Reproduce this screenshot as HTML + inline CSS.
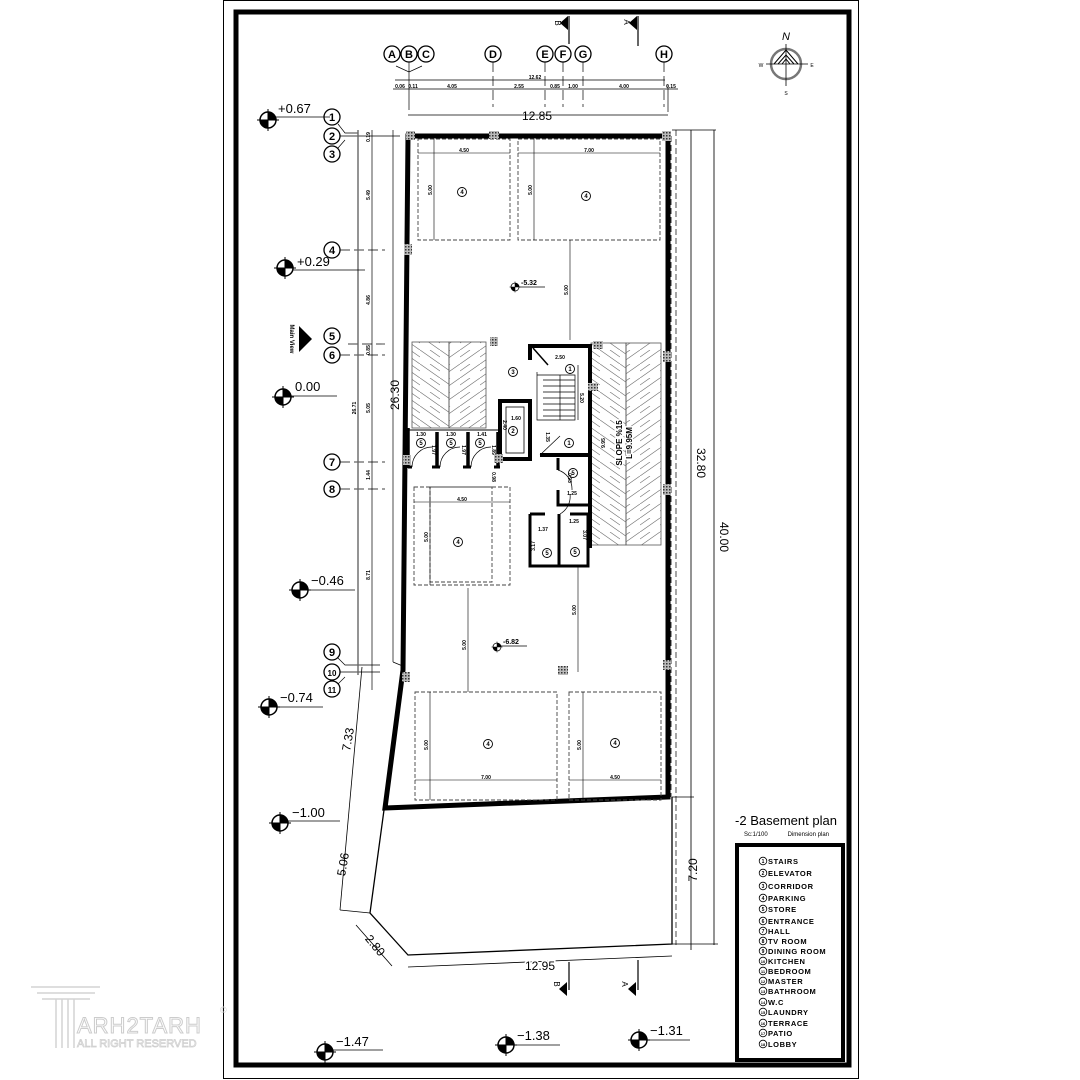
<!DOCTYPE html>
<html><head><meta charset="utf-8"><style>
html,body{margin:0;padding:0;background:#fff}
svg{display:block}
text{font-family:"Liberation Sans",sans-serif}
</style></head><body>
<svg width="1080" height="1080" viewBox="0 0 1080 1080" xmlns="http://www.w3.org/2000/svg">
<defs>
<pattern id="hl" width="20" height="14" patternUnits="userSpaceOnUse">
<path d="M0,0 L20,14 M-10,7 L0,14 M10,0 L20,7" stroke="#777" stroke-width="0.7" fill="none"/>
</pattern>
<pattern id="hr" width="20" height="14" patternUnits="userSpaceOnUse">
<path d="M20,0 L0,14 M30,7 L20,14 M10,0 L0,7" stroke="#777" stroke-width="0.7" fill="none"/>
</pattern>
<pattern id="col" width="3" height="3" patternUnits="userSpaceOnUse">
<rect width="3" height="3" fill="#bbb"/><rect width="1.5" height="1.5" fill="#333"/>
</pattern>
<g id="lvl">
<circle r="8" fill="#fff" stroke="#000" stroke-width="1.5"/>
<path d="M0,0 L8,0 A8,8 0 0 0 0,-8Z M0,0 L-8,0 A8,8 0 0 0 0,8Z" fill="#000"/>
<line x1="-11" y1="0" x2="11" y2="0" stroke="#000"/><line x1="0" y1="-11" x2="0" y2="11" stroke="#000"/>
</g>
</defs>

<!-- frame -->
<rect x="223.5" y="0.5" width="635" height="1078" fill="none" stroke="#000" stroke-width="1"/>
<rect x="236" y="12" width="613" height="1053" fill="none" stroke="#000" stroke-width="5"/>

<!-- section markers -->
<g stroke="#000" stroke-width="1.2">
<line x1="569" y1="16" x2="569" y2="44"/><line x1="638" y1="16" x2="638" y2="46"/>
<line x1="569" y1="962" x2="569" y2="990"/><line x1="638" y1="960" x2="638" y2="990"/>
</g>
<path d="M568,16 L560,23 L568,30Z M637,16 L629,23 L637,30Z M567,982 L559,989 L567,996Z M636,982 L628,989 L636,996Z" fill="#000"/>
<text x="555" y="23" font-size="8" transform="rotate(90 555 23)" text-anchor="middle">B</text>
<text x="624" y="22" font-size="8" transform="rotate(90 624 22)" text-anchor="middle">A</text>
<text x="554" y="984" font-size="8" transform="rotate(90 554 984)" text-anchor="middle">B</text>
<text x="622" y="984" font-size="8" transform="rotate(90 622 984)" text-anchor="middle">A</text>

<!-- compass -->
<g stroke="#000" fill="none">
<circle cx="786" cy="64" r="15" stroke="#777" stroke-width="2.5"/>
<line x1="786" y1="44" x2="786" y2="86" stroke-width="0.8"/>
<line x1="766" y1="64" x2="808" y2="64" stroke-width="0.8"/>
<path d="M774,64 L786,50 L798,64 M778,64 L786,55 L794,64 M782,64 L786,59 L790,64" stroke-width="1"/>
</g>
<text x="786" y="40" font-size="11" font-style="italic" font-family="Liberation Serif" text-anchor="middle">N</text>
<text x="761" y="67" font-size="5" text-anchor="middle">W</text>
<text x="812" y="67" font-size="5" text-anchor="middle">E</text>
<text x="786" y="95" font-size="5" text-anchor="middle">S</text>

<!-- column grid bubbles -->
<g font-size="11" font-weight="bold" text-anchor="middle" fill="#000">
<g stroke="#000" stroke-width="1.3" fill="none">
<circle cx="392" cy="54" r="8"/><circle cx="409" cy="54" r="8"/><circle cx="426" cy="54" r="8"/>
<circle cx="493" cy="54" r="8"/><circle cx="545" cy="54" r="8"/><circle cx="563" cy="54" r="8"/>
<circle cx="583" cy="54" r="8"/><circle cx="664" cy="54" r="8"/>
</g>
<text x="392" y="58">A</text><text x="409" y="58">B</text><text x="426" y="58">C</text><text x="493" y="58">D</text>
<text x="545" y="58">E</text><text x="563" y="58">F</text><text x="583" y="58">G</text><text x="664" y="58">H</text>
</g>
<g stroke="#000" stroke-width="0.7" fill="none">
<path d="M396,66 L409,72 L422,66 M409,62 L409,110"/>
<line x1="493" y1="62" x2="493" y2="107" stroke-dasharray="10,4"/>
<line x1="545" y1="62" x2="545" y2="107" stroke-dasharray="10,4"/>
<line x1="563" y1="62" x2="563" y2="107" stroke-dasharray="10,4"/>
<line x1="583" y1="62" x2="583" y2="107" stroke-dasharray="10,4"/>
<line x1="664" y1="62" x2="664" y2="107" stroke-dasharray="10,4"/>
<line x1="668" y1="85" x2="668" y2="112"/>
<line x1="395" y1="80" x2="665" y2="80"/>
<line x1="393" y1="89" x2="678" y2="89"/>
<line x1="408" y1="115" x2="668" y2="115"/>
</g>
<g font-size="5" font-weight="bold" text-anchor="middle">
<text x="535" y="79">12.62</text>
<text x="400" y="88">0.06</text><text x="413" y="88">0.11</text><text x="452" y="88">4.05</text>
<text x="519" y="88">2.55</text><text x="555" y="88">0.85</text><text x="573" y="88">1.00</text>
<text x="624" y="88">4.00</text><text x="671" y="88">0.15</text>
</g>
<text x="537" y="120" font-size="12" text-anchor="middle" font-family="Liberation Sans Narrow, Liberation Sans">12.85</text>

<!-- row grid bubbles -->
<g stroke="#000" stroke-width="1.3" fill="none">
<circle cx="332" cy="117" r="8"/><circle cx="332" cy="136" r="8"/><circle cx="332" cy="154" r="8"/>
<circle cx="332" cy="250" r="8"/><circle cx="332" cy="336" r="8"/><circle cx="332" cy="355" r="8"/>
<circle cx="332" cy="462" r="8"/><circle cx="332" cy="489" r="8"/>
<circle cx="332" cy="652" r="8"/><circle cx="332" cy="672" r="8"/><circle cx="332" cy="689" r="8"/>
</g>
<g font-size="11" font-weight="bold" text-anchor="middle">
<text x="332" y="121">1</text><text x="332" y="140">2</text><text x="332" y="158">3</text>
<text x="332" y="254">4</text><text x="332" y="340">5</text><text x="332" y="359">6</text>
<text x="332" y="466">7</text><text x="332" y="493">8</text><text x="332" y="656">9</text>
<text x="332" y="676" font-size="8">10</text><text x="332" y="693" font-size="8">11</text>
</g>
<g stroke="#000" stroke-width="0.7" fill="none">
<line x1="340" y1="250" x2="385" y2="250" stroke-dasharray="10,4"/>
<line x1="348" y1="344" x2="385" y2="344" stroke-dasharray="10,4"/>
<line x1="340" y1="355" x2="385" y2="355" stroke-dasharray="10,4"/>
<line x1="340" y1="462" x2="385" y2="462" stroke-dasharray="10,4"/>
<line x1="340" y1="489" x2="385" y2="489" stroke-dasharray="10,4"/>
<path d="M338,124 L345,133 L358,133 M340,136 L400,136 M338,148 L345,140"/>
<path d="M338,658 L345,665 L380,665 M340,672 L380,672 M338,684 L345,677"/>
<line x1="358" y1="130" x2="358" y2="675" stroke="#666" stroke-width="1.4"/>
<line x1="372" y1="130" x2="372" y2="690"/>
<line x1="393" y1="130" x2="393" y2="662"/>
<line x1="393" y1="662" x2="405" y2="667"/>
<line x1="691" y1="130" x2="691" y2="950" stroke="#666" stroke-width="1.4"/>
<line x1="714" y1="130" x2="714" y2="945" stroke="#666" stroke-width="1.4"/>
<line x1="672" y1="130" x2="716" y2="130"/>
<line x1="672" y1="797" x2="694" y2="797"/>
<line x1="672" y1="944" x2="718" y2="944"/>
<line x1="676" y1="130" x2="676" y2="945" stroke-dasharray="6,3"/>
</g>
<g font-size="5" font-weight="bold" text-anchor="middle">
<text transform="translate(370,195) rotate(-90)">5.49</text>
<text transform="translate(370,300) rotate(-90)">4.86</text>
<text transform="translate(370,350) rotate(-90)">0.85</text>
<text transform="translate(370,408) rotate(-90)">5.05</text>
<text transform="translate(370,475) rotate(-90)">1.44</text>
<text transform="translate(370,575) rotate(-90)">8.71</text>
<text transform="translate(356,408) rotate(-90)">26.71</text>
<text transform="translate(370,137) rotate(-90)">0.19</text>
</g>
<text transform="translate(399,395) rotate(-90)" font-size="12" text-anchor="middle">26.30</text>
<text transform="translate(697,463) rotate(90)" font-size="12" text-anchor="middle">32.80</text>
<text transform="translate(720,537) rotate(90)" font-size="12" text-anchor="middle">40.00</text>
<text transform="translate(697,870) rotate(-90)" font-size="12" text-anchor="middle">7.20</text>

<!-- main view -->
<path d="M299,326 L299,352 L312,339Z" fill="#000"/>
<text transform="translate(290,339) rotate(90)" font-size="6" text-anchor="middle" font-weight="bold">Main View</text>

<!-- level markers -->
<use href="#lvl" x="268" y="120"/><line x1="276" y1="117" x2="330" y2="117" stroke="#000" stroke-width="0.8"/><text x="278" y="113" font-size="13">+0.67</text>
<use href="#lvl" x="285" y="268"/><line x1="293" y1="270" x2="365" y2="270" stroke="#000" stroke-width="0.8"/><text x="297" y="266" font-size="13">+0.29</text>
<use href="#lvl" x="283" y="397"/><line x1="291" y1="396" x2="337" y2="396" stroke="#000" stroke-width="0.8"/><text x="295" y="391" font-size="13">0.00</text>
<use href="#lvl" x="300" y="590"/><line x1="308" y1="590" x2="355" y2="590" stroke="#000" stroke-width="0.8"/><text x="311" y="585" font-size="13">−0.46</text>
<use href="#lvl" x="269" y="707"/><line x1="277" y1="707" x2="323" y2="707" stroke="#000" stroke-width="0.8"/><text x="280" y="702" font-size="13">−0.74</text>
<use href="#lvl" x="280" y="823"/><line x1="288" y1="821" x2="340" y2="821" stroke="#000" stroke-width="0.8"/><text x="292" y="817" font-size="13">−1.00</text>
<use href="#lvl" x="325" y="1052"/><line x1="333" y1="1050" x2="383" y2="1050" stroke="#000" stroke-width="0.8"/><text x="336" y="1046" font-size="13">−1.47</text>
<use href="#lvl" x="506" y="1045"/><line x1="514" y1="1045" x2="560" y2="1045" stroke="#000" stroke-width="0.8"/><text x="517" y="1040" font-size="13">−1.38</text>
<use href="#lvl" x="639" y="1040"/><line x1="647" y1="1040" x2="690" y2="1040" stroke="#000" stroke-width="0.8"/><text x="650" y="1035" font-size="13">−1.31</text>

<!-- site outline lower -->
<g stroke="#000" fill="none">
<path d="M384,810 L370,913 L408,955 L672,944 L672,797" stroke-width="1.3"/>
<path d="M408,967 L672,956" stroke-width="0.8"/>
<path d="M362,667 L340,910 M340,910 L370,913 M356,925 L392,966" stroke-width="0.8"/>
</g>
<text transform="translate(352,740) rotate(-80)" font-size="12" text-anchor="middle">7.33</text>
<text transform="translate(347,865) rotate(-80)" font-size="12" text-anchor="middle">5.06</text>
<text transform="translate(372,948) rotate(50)" font-size="12" text-anchor="middle">2.80</text>
<text x="540" y="970" font-size="12" text-anchor="middle" fill="#000" style="paint-order:stroke" stroke="#fff" stroke-width="3">12.95</text>

<!-- building walls -->
<path d="M408,136 L668,136 L668,797 L385,808 L403,670 Z" fill="none" stroke="#000" stroke-width="5" stroke-linejoin="miter"/>
<line x1="671" y1="136" x2="671" y2="797" stroke="#000" stroke-width="0.8" stroke-dasharray="6,3"/>

<!-- parking boxes -->
<g fill="none" stroke="#444" stroke-width="0.9" stroke-dasharray="4,2">
<rect x="418" y="139" width="92" height="101"/>
<rect x="518" y="139" width="142" height="101"/>
<rect x="414" y="487" width="96" height="98"/>
<rect x="430" y="487" width="62" height="95"/>
<rect x="415" y="692" width="142" height="108"/>
<rect x="569" y="692" width="92" height="108"/>
</g>
<g stroke="#000" stroke-width="0.6">
<line x1="418" y1="153" x2="510" y2="153"/><line x1="518" y1="153" x2="660" y2="153"/>
<line x1="434" y1="139" x2="434" y2="240"/><line x1="534" y1="139" x2="534" y2="240"/>
<line x1="570" y1="240" x2="570" y2="340"/>
<line x1="414" y1="502" x2="510" y2="502"/><line x1="430" y1="487" x2="430" y2="585"/>
<line x1="468" y1="588" x2="468" y2="692"/><line x1="578" y1="565" x2="578" y2="672"/>
<line x1="415" y1="780" x2="557" y2="780"/><line x1="569" y1="780" x2="661" y2="780"/>
<line x1="430" y1="692" x2="430" y2="800"/><line x1="583" y1="692" x2="583" y2="800"/>
</g>
<g font-size="5" font-weight="bold" text-anchor="middle">
<text x="464" y="152">4.50</text><text x="589" y="152">7.00</text>
<text x="462" y="501">4.50</text><text x="486" y="779">7.00</text><text x="615" y="779">4.50</text>
<text transform="translate(432,190) rotate(-90)">5.00</text>
<text transform="translate(532,190) rotate(-90)">5.00</text>
<text transform="translate(568,290) rotate(-90)">5.00</text>
<text transform="translate(428,537) rotate(-90)">5.00</text>
<text transform="translate(466,645) rotate(-90)">5.00</text>
<text transform="translate(576,610) rotate(-90)">5.00</text>
<text transform="translate(428,745) rotate(-90)">5.00</text>
<text transform="translate(581,745) rotate(-90)">5.00</text>
</g>
<g fill="none" stroke="#000" stroke-width="0.9">
<circle cx="462" cy="192" r="4.5"/><circle cx="586" cy="196" r="4.5"/>
<circle cx="458" cy="542" r="4.5"/><circle cx="488" cy="744" r="4.5"/><circle cx="615" cy="743" r="4.5"/>
</g>
<g font-size="6" font-weight="bold" text-anchor="middle">
<text x="462" y="194">4</text><text x="586" y="198">4</text><text x="458" y="544">4</text><text x="488" y="746">4</text><text x="615" y="745">4</text>
</g>
<use href="#lvl" x="515" y="287" transform="translate(257.5,143.5) scale(0.5)"/>
<line x1="519" y1="287" x2="545" y2="287" stroke="#000" stroke-width="0.7"/><text x="521" y="285" font-size="7" font-weight="bold">-5.32</text>
<use href="#lvl" x="497" y="647" transform="translate(248.5,323.5) scale(0.5)"/>
<line x1="501" y1="646" x2="527" y2="646" stroke="#000" stroke-width="0.7"/><text x="503" y="644" font-size="7" font-weight="bold">-6.82</text>

<!-- hatched ramps -->
<rect x="412" y="342" width="37" height="86" fill="url(#hl)" stroke="#555" stroke-width="0.8"/>
<rect x="449" y="342" width="37" height="86" fill="url(#hr)" stroke="#555" stroke-width="0.8"/>
<rect x="591" y="343" width="35" height="202" fill="url(#hl)" stroke="#555" stroke-width="0.8"/>
<rect x="626" y="343" width="35" height="202" fill="url(#hr)" stroke="#555" stroke-width="0.8"/>
<text transform="translate(622,443) rotate(-90)" font-size="8" font-weight="bold" text-anchor="middle" stroke="#fff" stroke-width="3" style="paint-order:stroke">SLOPE %15</text>
<text transform="translate(632,443) rotate(-90)" font-size="8" font-weight="bold" text-anchor="middle" stroke="#fff" stroke-width="3" style="paint-order:stroke">L=9.95M</text>
<text transform="translate(605,443) rotate(-90)" font-size="5" font-weight="bold" text-anchor="middle">9.95</text>

<!-- core walls -->
<g stroke="#000" fill="none">
<path d="M530,360 L530,346 L590,346 L590,548" stroke-width="4"/>
<path d="M533,348 L548,365" stroke-width="1.5"/>
<path d="M540,455 L590,455" stroke-width="4"/>
<rect x="500" y="401" width="30" height="58" stroke-width="4"/>
<rect x="506" y="407" width="18" height="46" stroke-width="0.8"/>
<path d="M405,430 L500,430" stroke-width="1"/>
<path d="M408,428 L408,468 M437,432 L437,468 M468,432 L468,468 M498,432 L498,468" stroke-width="3.5"/>
<path d="M408,467 L412,467 M432,467 L440,467 M463,467 L471,467 M494,467 L500,467" stroke-width="3"/>
<path d="M412,467 A20,20 0 0 1 432,447 M440,467 A20,20 0 0 1 460,447 M471,467 A20,20 0 0 1 491,447" stroke-width="0.7"/>
<path d="M558,458 L558,470 M558,490 L558,505 L590,505" stroke-width="3"/>
<path d="M530,514 L530,566 L588,566 L588,514 L570,514 M545,514 L530,514 M559,514 L559,566" stroke-width="3"/>
<path d="M558,470 A20,20 0 0 1 572,490 M560,514 A20,20 0 0 0 570,494" stroke-width="0.7"/>
</g>
<g stroke="#000" stroke-width="0.7" fill="none">
<path d="M537,372 L537,420 L575,420 L575,375 L537,375"/>
<path d="M543,380 L575,380 M543,386 L575,386 M543,392 L575,392 M543,398 L575,398 M543,404 L575,404 M543,410 L575,410 M543,416 L575,416"/>
<line x1="560" y1="375" x2="560" y2="420"/>
<path d="M540,455 L560,436"/>
<line x1="578" y1="365" x2="578" y2="420"/>
</g>
<g font-size="5" font-weight="bold" text-anchor="middle">
<text x="560" y="359">2.50</text><text x="516" y="420">1.60</text>
<text x="421" y="436">1.30</text><text x="451" y="436">1.30</text><text x="482" y="436">1.41</text>
<text x="572" y="495">1.25</text><text x="543" y="531">1.37</text><text x="574" y="523">1.25</text>
<text transform="translate(580,398) rotate(90)">5.20</text>
<text transform="translate(503,425) rotate(90)">2.40</text>
<text transform="translate(546,437) rotate(90)">1.35</text>
<text transform="translate(492,477) rotate(90)">0.98</text>
<text transform="translate(568,478) rotate(90)">0.93</text>
<text transform="translate(535,546) rotate(-90)">3.17</text>
<text transform="translate(583,535) rotate(90)">3.07</text>
<text transform="translate(432,450) rotate(90)">1.97</text>
<text transform="translate(462,450) rotate(90)">1.97</text>
<text transform="translate(492,450) rotate(90)">1.89</text>
</g>
<g fill="none" stroke="#000" stroke-width="0.9">
<circle cx="513" cy="372" r="4.5"/><circle cx="570" cy="369" r="4.5"/><circle cx="569" cy="443" r="4.5"/>
<circle cx="513" cy="431" r="4.5"/><circle cx="421" cy="443" r="4.5"/><circle cx="451" cy="443" r="4.5"/>
<circle cx="480" cy="443" r="4.5"/><circle cx="573" cy="473" r="4.5"/><circle cx="547" cy="553" r="4.5"/><circle cx="575" cy="552" r="4.5"/>
</g>
<g font-size="6" font-weight="bold" text-anchor="middle">
<text x="513" y="374">3</text><text x="570" y="371">1</text><text x="569" y="445">1</text><text x="513" y="433">2</text>
<text x="421" y="445">5</text><text x="451" y="445">5</text><text x="480" y="445">5</text>
<text x="573" y="475">5</text><text x="547" y="555">5</text><text x="575" y="554">5</text>
</g>

<!-- columns -->
<g fill="url(#col)">
<rect x="406" y="131" width="9" height="9"/><rect x="489" y="131" width="10" height="8"/><rect x="662" y="131" width="9" height="10"/>
<rect x="404" y="244" width="8" height="11"/><rect x="490" y="337" width="8" height="9"/><rect x="593" y="341" width="10" height="8"/>
<rect x="663" y="351" width="8" height="11"/><rect x="663" y="484" width="8" height="11"/>
<rect x="403" y="455" width="8" height="10"/><rect x="494" y="454" width="9" height="9"/><rect x="588" y="383" width="10" height="8"/>
<rect x="558" y="666" width="10" height="9"/><rect x="402" y="672" width="8" height="10"/><rect x="663" y="660" width="8" height="10"/>
</g>

<!-- title -->
<text x="786" y="825" font-size="13" text-anchor="middle" font-family="Liberation Sans Narrow, Liberation Sans">-2 Basement plan</text>
<text x="744" y="836" font-size="6">Sc:1/100</text>
<text x="829" y="836" font-size="6" text-anchor="end">Dimension plan</text>

<!-- legend -->
<rect x="737" y="845" width="106" height="215" fill="none" stroke="#000" stroke-width="4"/>
<g font-size="7.5" font-weight="bold" letter-spacing="0.6">
<g fill="none" stroke="#000" stroke-width="0.8">
<circle cx="763" cy="861" r="3.8"/><circle cx="763" cy="873" r="3.8"/><circle cx="763" cy="886" r="3.8"/>
<circle cx="763" cy="898" r="3.8"/><circle cx="763" cy="909" r="3.8"/><circle cx="763" cy="921" r="3.8"/>
<circle cx="763" cy="931" r="3.8"/><circle cx="763" cy="941" r="3.8"/><circle cx="763" cy="951" r="3.8"/>
<circle cx="763" cy="961" r="3.8"/><circle cx="763" cy="971" r="3.8"/><circle cx="763" cy="981" r="3.8"/>
<circle cx="763" cy="991" r="3.8"/><circle cx="763" cy="1002" r="3.8"/><circle cx="763" cy="1012" r="3.8"/>
<circle cx="763" cy="1023" r="3.8"/><circle cx="763" cy="1033" r="3.8"/><circle cx="763" cy="1044" r="3.8"/>
</g>
<g font-size="5" text-anchor="middle" letter-spacing="0">
<text x="763" y="863">1</text><text x="763" y="875">2</text><text x="763" y="888">3</text>
<text x="763" y="900">4</text><text x="763" y="911">5</text><text x="763" y="923">6</text>
<text x="763" y="933">7</text><text x="763" y="943">8</text><text x="763" y="953">9</text>
<text x="763" y="963" font-size="4">10</text><text x="763" y="973" font-size="4">11</text><text x="763" y="983" font-size="4">12</text>
<text x="763" y="993" font-size="4">13</text><text x="763" y="1004" font-size="4">14</text><text x="763" y="1014" font-size="4">15</text>
<text x="763" y="1025" font-size="4">16</text><text x="763" y="1035" font-size="4">17</text><text x="763" y="1046" font-size="4">18</text>
</g>
<text x="768" y="864">STAIRS</text><text x="768" y="876">ELEVATOR</text><text x="768" y="889">CORRIDOR</text>
<text x="768" y="901">PARKING</text><text x="768" y="912">STORE</text><text x="768" y="924">ENTRANCE</text>
<text x="768" y="934">HALL</text><text x="768" y="944">TV ROOM</text><text x="768" y="954">DINING ROOM</text>
<text x="768" y="964">KITCHEN</text><text x="768" y="974">BEDROOM</text><text x="768" y="984">MASTER</text>
<text x="768" y="994">BATHROOM</text><text x="768" y="1005">W.C</text><text x="768" y="1015">LAUNDRY</text>
<text x="768" y="1026">TERRACE</text><text x="768" y="1036">PATIO</text><text x="768" y="1047">LOBBY</text>
</g>

<!-- watermark -->
<g fill="none" stroke="#d4d4d4" stroke-width="1.5">
<path d="M31,987 L100,987 M37,993 L95,993 M42,999 L90,999"/>
<path d="M56,999 L56,1048 M62,999 L62,1048 M68,999 L68,1048 M74,999 L74,1048"/>
</g>
<text x="77" y="1033" font-size="22" fill="#fff" stroke="#ccc" stroke-width="1" letter-spacing="1">ARH2TARH</text>
<text x="77" y="1047" font-size="11" fill="#fff" stroke="#ccc" stroke-width="0.7">ALL RIGHT RESERVED</text>
<text x="220" y="1013" font-size="9" fill="#ccc">©</text>
</svg>
</body></html>
